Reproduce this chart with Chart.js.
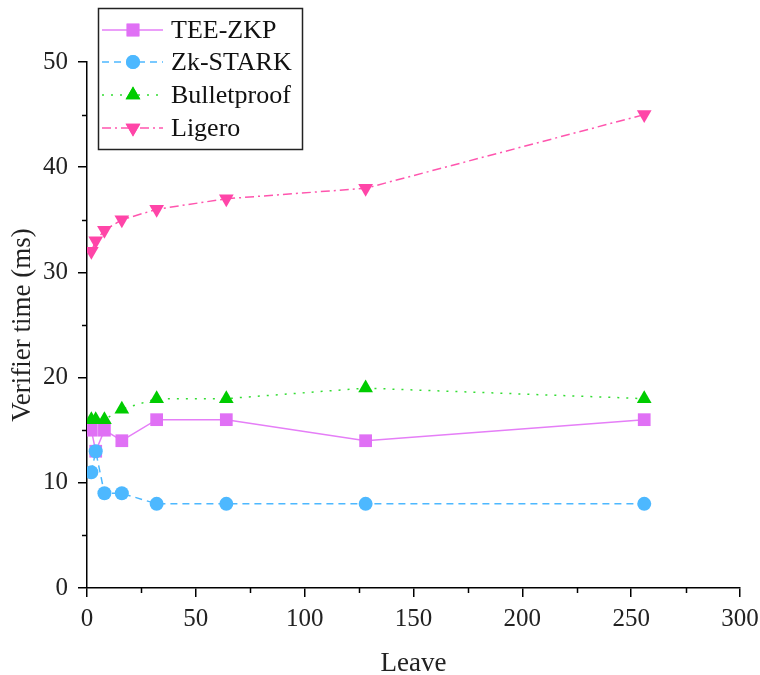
<!DOCTYPE html>
<html>
<head>
<meta charset="utf-8">
<script src="https://cdn.jsdelivr.net/npm/chart.js@4.4.1/dist/chart.umd.min.js"></script>
<style>
  html, body { margin: 0; padding: 0; background: #fff; }
  #wrap { width: 760px; height: 675px; }
</style>
</head>
<body>
<div id="wrap"><canvas id="chart" width="760" height="675"></canvas></div>
<script>
// Verifier time vs. number of leaves
const LEAVES = [2, 4, 8, 16, 32, 64, 128, 256];
const TEE_ZKP = [15, 13, 15, 14, 16, 16, 14, 16];
const ZK_STARK = [11, 13, 9, 9, 8, 8, 8, 8];
const BULLETPROOF = [16, 16, 16, 17, 18, 18, 19, 18];
const LIGERO = [32, 33, 34, 35, 36, 37, 38, 45];
const X_MINOR = [25, 75, 125, 175, 225, 275];
const Y_MINOR = [5, 15, 25, 35, 45];

const FONT = '"Liberation Serif", "Times New Roman", serif';

function pts(ys) {
  return LEAVES.map((x, i) => ({ x: x, y: ys[i] }));
}

// order: later series are painted over earlier ones, like the original plot
const series = [
  { label: 'TEE-ZKP', data: TEE_ZKP, color: '#E070F5', line: '#E57EF7', dash: [], style: 'rect', radius: 9, rot: 0 },
  { label: 'Zk-STARK', data: ZK_STARK, color: '#4DB8FF', line: '#4DB8FF', dash: [7, 5], style: 'circle', radius: 7, rot: 0 },
  { label: 'Bulletproof', data: BULLETPROOF, color: '#00CC00', line: '#33DD33', dash: [2, 7], style: 'triangle', radius: 8.5, rot: 0 },
  { label: 'Ligero', data: LIGERO, color: '#FF45A8', line: '#FF55AE', dash: [9, 4, 2, 4], style: 'triangle', radius: 8.5, rot: 180 }
];

// minor ticks + framed legend drawn on top
const extras = {
  id: 'extras',
  afterDraw(chart) {
    const ctx = chart.ctx;
    const xs = chart.scales.x, ys = chart.scales.y;
    const area = chart.chartArea;
    ctx.save();
    ctx.strokeStyle = '#000';
    ctx.lineWidth = 1.5;
    X_MINOR.forEach(v => {
      const px = Math.round(xs.getPixelForValue(v)) + 0.5;
      ctx.beginPath(); ctx.moveTo(px, area.bottom); ctx.lineTo(px, area.bottom + 5); ctx.stroke();
    });
    Y_MINOR.forEach(v => {
      const py = Math.round(ys.getPixelForValue(v)) + 0.5;
      ctx.beginPath(); ctx.moveTo(area.left, py); ctx.lineTo(area.left - 5, py); ctx.stroke();
    });

    // legend box
    const bx = 98.5, by = 8.5, bw = 204, bh = 141;
    ctx.fillStyle = '#fff';
    ctx.fillRect(bx, by, bw, bh);
    ctx.strokeStyle = '#222';
    ctx.lineWidth = 1.5;
    ctx.strokeRect(bx, by, bw, bh);
    const rows = [30, 62, 95, 128];
    series.forEach((s, i) => {
      const y = rows[i];
      ctx.strokeStyle = s.line;
      ctx.lineWidth = 1.5;
      ctx.setLineDash(s.dash);
      ctx.beginPath(); ctx.moveTo(102, y); ctx.lineTo(163, y); ctx.stroke();
      ctx.setLineDash([]);
      ctx.fillStyle = s.color;
      Chart.helpers.drawPoint(ctx, { pointStyle: s.style, radius: s.radius, rotation: s.rot, borderWidth: 0 }, 133, y);
      ctx.fill();
      ctx.fillStyle = '#111';
      ctx.font = '26px ' + FONT;
      ctx.textBaseline = 'middle';
      ctx.textAlign = 'left';
      ctx.fillText(s.label, 171, y + 1);
    });
    ctx.restore();
  }
};

new Chart(document.getElementById('chart'), {
  type: 'line',
  data: {
    datasets: series.map((s, i) => ({
      label: s.label,
      data: pts(s.data),
      order: series.length - i,
      borderColor: s.line,
      borderWidth: 1.5,
      borderDash: s.dash,
      backgroundColor: s.color,
      pointBackgroundColor: s.color,
      pointBorderWidth: 0,
      pointStyle: s.style,
      pointRadius: s.radius,
      pointRotation: s.rot,
      fill: false,
      tension: 0
    }))
  },
  options: {
    responsive: false,
    animation: false,
    layout: { padding: { top: 62, right: 20, left: 0, bottom: 0 } },
    plugins: { legend: { display: false }, tooltip: { enabled: false } },
    scales: {
      x: {
        type: 'linear',
        min: 0, max: 300,
        ticks: { stepSize: 50, color: '#222', font: { family: FONT, size: 25 }, padding: 7, maxRotation: 0 },
        grid: { drawOnChartArea: false, tickLength: 9, color: '#000', lineWidth: 1.5 },
        border: { color: '#000', width: 1.5 },
        title: { display: true, text: 'Leave', color: '#222', font: { family: FONT, size: 27 }, padding: { top: 0, bottom: -5 } },
        afterFit(scale) { scale.height = 87; scale.paddingLeft = 0; scale.paddingRight = 0; }
      },
      y: {
        min: 0, max: 50,
        ticks: { stepSize: 10, color: '#222', font: { family: FONT, size: 25 }, padding: 10 },
        grid: { drawOnChartArea: false, tickLength: 9, color: '#000', lineWidth: 1.5 },
        border: { color: '#000', width: 1.5 },
        title: { display: true, text: 'Verifier time (ms)', color: '#222', font: { family: FONT, size: 27 }, padding: { top: 7, bottom: 0 } },
        afterFit(scale) { scale.width = 87; scale.paddingTop = 0; scale.paddingBottom = 0; }
      }
    }
  },
  plugins: [extras]
});
</script>
</body>
</html>
